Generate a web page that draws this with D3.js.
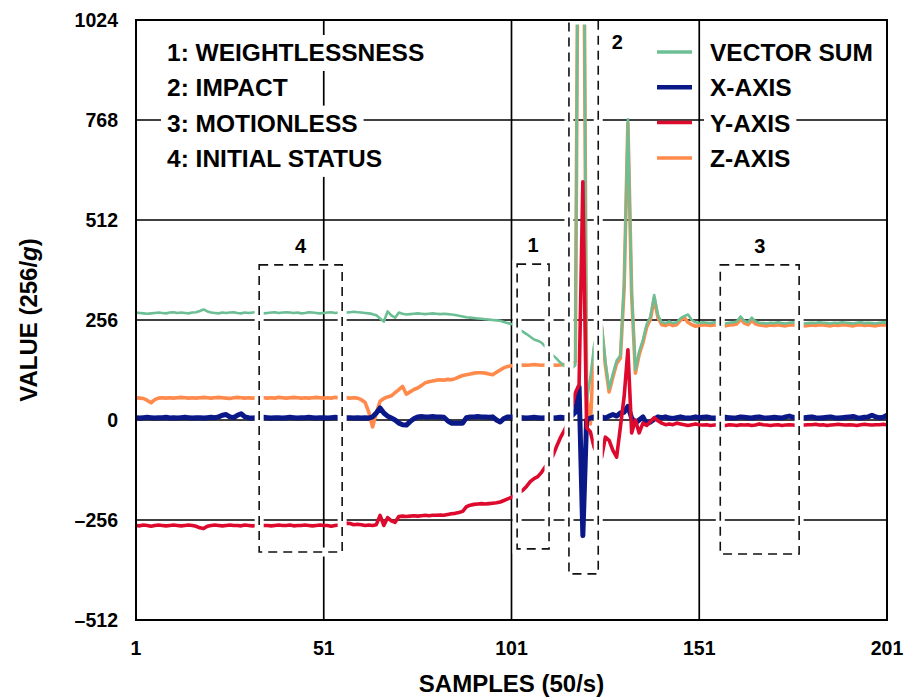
<!DOCTYPE html>
<html>
<meta charset="utf-8">
<title>Fall detection: accelerometer samples</title>
<style>
  body { margin: 0; background: #fff; }
  svg text { font-family: "Liberation Sans", Arial, sans-serif; font-weight: bold; fill: #000; }
  .grid line { stroke: #000; stroke-width: 1.7px; }
  .series { fill: none; stroke-linejoin: round; stroke-linecap: round; }
</style>
<script src="https://d3js.org/d3.v7.min.js"></script>
<body>
<script>
// chart values
const xTicks = [1, 51, 101, 151, 201]
const yTicks = [-512, -256, 0, 256, 512, 768, 1024]
const yTickLabels = ["\u2013512", "\u2013256", "0", "256", "512", "768", "1024"]
const notes = ["1: WEIGHTLESSNESS", "2: IMPACT", "3: MOTIONLESS", "4: INITIAL STATUS"]
const seriesNames = ["VECTOR SUM", "X-AXIS", "Y-AXIS", "Z-AXIS"]
const seriesColors = ["#6cbf94", "#0a1888", "#de0a2e", "#ff8a4c"]

const vectorSum = [
  275,274,273,272,273,274,275,274,273,275,
  276,274,275,274,273,275,276,279,283,278,
  275,274,273,275,274,275,276,274,273,275,
  274,275,276,275,273,274,275,276,274,275,
  276,275,274,275,273,274,276,275,274,273,
  274,275,276,274,275,274,275,276,277,276,
  275,274,273,271,268,260,252,278,268,262,
  275,272,270,271,272,273,272,271,272,273,
  272,271,272,271,270,269,267,265,263,262,
  261,260,259,258,257,256,255,254,251,248,
  246,240,232,226,220,213,206,203,198,188,
  176,166,157,147,139,134,132,140,1850,1850,
  43,110,190,235,244,150,80,118,152,165,
  350,770,330,128,175,205,245,265,320,268,
  250,248,252,248,250,260,266,270,256,250,
  248,250,249,248,250,249,248,247,249,250,
  252,265,254,250,262,252,249,248,247,249,
  248,250,248,247,249,250,248,249,247,248,
  249,248,250,249,248,247,249,248,250,249,
  248,247,249,250,248,249,248,247,249,250,
  249
]
const xAxis = [
  6,5,6,7,6,5,6,6,7,5,
  6,5,6,7,6,5,6,6,5,6,
  7,6,8,12,14,8,6,12,16,8,
  6,5,6,6,7,6,5,6,6,5,
  6,7,6,5,6,6,7,6,5,6,
  6,5,6,7,6,5,6,6,5,6,
  5,6,5,8,18,31,18,10,5,0,
  -8,-12,-13,-4,3,8,9,8,8,9,
  8,8,7,-2,-8,-8,-8,-8,6,8,
  8,9,8,8,7,8,0,-5,4,8,
  8,6,7,6,5,6,7,6,5,6,
  6,5,6,7,6,8,10,20,85,-296,
  0,5,8,10,8,5,10,14,10,18,
  20,35,5,-8,0,8,-10,-5,2,8,
  6,8,5,4,6,8,6,5,6,8,
  6,7,8,6,5,6,8,7,6,5,
  6,8,7,6,5,7,8,6,5,6,
  7,6,5,8,10,7,6,5,6,7,
  8,6,5,6,7,8,6,5,6,7,
  8,9,6,5,7,8,12,8,6,7,
  12
]
const yAxis = [
  -270,-271,-269,-270,-272,-270,-269,-270,-271,-270,
  -269,-270,-271,-270,-269,-270,-272,-276,-278,-272,
  -270,-269,-270,-271,-270,-269,-270,-270,-271,-269,
  -270,-271,-270,-269,-270,-270,-271,-270,-269,-270,
  -270,-269,-271,-270,-270,-269,-270,-271,-270,-269,
  -270,-270,-272,-270,-269,-266,-264,-265,-268,-267,
  -268,-270,-269,-270,-268,-244,-270,-250,-258,-262,
  -247,-246,-247,-246,-245,-246,-245,-244,-245,-244,
  -244,-243,-244,-242,-240,-239,-237,-234,-222,-218,
  -216,-215,-214,-215,-214,-213,-212,-210,-206,-202,
  -198,-192,-186,-180,-170,-158,-150,-145,-134,-120,
  -108,-92,-68,-46,-28,-8,30,70,90,610,
  -20,-30,-70,-90,-95,-44,-52,-78,-95,-18,
  60,180,-33,0,-33,-8,-14,-4,6,-2,
  -8,-12,-10,-12,-8,-10,-12,-14,-12,-10,
  -12,-13,-12,-14,-13,-12,-13,-14,-12,-13,
  -14,-12,-13,-12,-14,-13,-10,-12,-13,-14,
  -13,-12,-14,-13,-12,-13,-14,-12,-13,-12,
  -12,-11,-13,-12,-14,-13,-12,-11,-12,-13,
  -12,-13,-14,-12,-11,-12,-13,-12,-12,-11,
  -12
]
const zAxis = [
  57,56,55,50,44,52,56,57,56,57,
  56,57,58,57,56,57,56,57,58,57,
  56,57,58,57,56,55,57,58,57,56,
  57,56,57,58,57,56,57,56,58,57,
  56,57,58,57,56,57,56,57,58,57,
  56,57,56,58,57,56,57,56,57,56,
  52,45,20,-18,18,48,55,59,62,70,
  78,86,66,72,78,82,88,95,98,100,
  102,103,102,104,103,106,110,114,116,118,
  120,121,121,120,118,116,122,128,134,137,
  139,140,140,141,140,141,142,141,140,141,
  142,141,140,141,142,142,144,150,1750,1750,
  60,-10,180,228,238,140,72,110,145,158,
  340,760,320,120,168,198,238,258,312,262,
  244,242,246,242,244,255,262,250,244,240,
  242,244,243,242,244,243,242,241,243,244,
  246,258,248,244,255,246,243,242,241,243,
  242,244,242,241,243,244,242,243,241,242,
  243,242,244,243,242,241,243,242,244,243,
  242,241,243,244,242,243,242,241,243,244,
  243
]
// dashed event windows, in sample / value units
const regions = [
  { label: "4", s0: 33.8, s1: 55.9, v0: -338, v1: 397, at: "top" },
  { label: "1", s0: 102.5, s1: 111, v0: -330, v1: 399, at: "top" },
  { label: "2", s0: 116.3, s1: 124.1, v0: -394, v1: 1024, at: "right" },
  { label: "3", s0: 156.6, s1: 177.6, v0: -343, v1: 397, at: "top" }
]

const width = 910, height = 697
const m = { left: 136, right: 23, top: 20, bottom: 77 }

const svg = d3.select("body").append("svg")
  .attr("width", width).attr("height", height)
  .style("background", "#fff")

const x = d3.scaleLinear().domain([1, 201]).range([m.left, width - m.right])
const y = d3.scaleLinear().domain([-512, 1024]).range([height - m.bottom, m.top])

svg.append("defs").append("clipPath").attr("id", "plotclip")
  .append("rect")
  .attr("x", x(1)).attr("y", y(1024))
  .attr("width", x(201) - x(1)).attr("height", y(-512) - y(1024))

// grid
const grid = svg.append("g").attr("class", "grid")
grid.selectAll(".gx").data(xTicks.slice(1, -1)).join("line")
  .attr("x1", d => x(d)).attr("x2", d => x(d))
  .attr("y1", y(-512)).attr("y2", y(1024))
grid.selectAll(".gy").data(yTicks.slice(1, -1)).join("line")
  .attr("y1", d => y(d)).attr("y2", d => y(d))
  .attr("x1", x(1)).attr("x2", x(201))

// series
const data = [vectorSum, xAxis, yAxis, zAxis]
const widths = [2.6, 5, 3.6, 3.6]
const drawOrder = [3, 0, 1, 2]
const line = d3.line().x((d, i) => x(i + 1)).y(d => y(d))

const lines = svg.append("g").attr("clip-path", "url(#plotclip)")
drawOrder.forEach(k => {
  lines.append("path")
    .datum(data[k])
    .attr("class", "series")
    .attr("stroke", seriesColors[k])
    .attr("stroke-width", widths[k])
    .attr("d", line)
})

// text blocks with white backing
function textRow(g, str, tx, ty, size) {
  const r = g.append("rect").attr("fill", "#fff")
  const t = g.append("text").attr("x", tx).attr("y", ty)
    .style("font-size", size + "px").text(str)
  const b = t.node().getBBox()
  r.attr("x", b.x - 6).attr("y", ty - 26).attr("width", b.width + 12).attr("height", 36)
  return t
}

const rowY = i => 61 + i * 35.3

const noteG = svg.append("g")
notes.forEach((n, i) => textRow(noteG, n, 167, rowY(i), 24.5))

const legG = svg.append("g")
seriesNames.forEach((n, i) => {
  const g = legG.append("g")
  textRow(g, n, 710, rowY(i), 24.5)
  g.append("line")
    .attr("x1", 657).attr("x2", 692)
    .attr("y1", rowY(i) - 9).attr("y2", rowY(i) - 9)
    .attr("stroke", seriesColors[i])
    .attr("stroke-width", widths[i] > 4 ? 4.5 : 3.5)
})

// dashed windows with white halo
const boxes = svg.append("g")
regions.forEach(r => {
  const bx = x(r.s0), by = y(r.v1), bw = x(r.s1) - x(r.s0), bh = y(r.v0) - y(r.v1)
  boxes.append("rect").attr("x", bx).attr("y", by).attr("width", bw).attr("height", bh)
    .attr("fill", "none").attr("stroke", "#fff").attr("stroke-width", 9)
  boxes.append("rect").attr("x", bx).attr("y", by).attr("width", bw).attr("height", bh)
    .attr("fill", "none").attr("stroke", "#111").attr("stroke-width", 1.6)
    .attr("stroke-dasharray", "9,6")
  const t = boxes.append("text").style("font-size", "20px")
    .attr("text-anchor", "middle").text(r.label)
  if (r.at === "top") t.attr("x", bx + bw / 2).attr("y", by - 12)
  else t.attr("x", bx + bw + 19).attr("y", by + 29)
})

// plot border
svg.append("rect")
  .attr("x", x(1)).attr("y", y(1024))
  .attr("width", x(201) - x(1)).attr("height", y(-512) - y(1024))
  .attr("fill", "none").attr("stroke", "#000").attr("stroke-width", 2)

// tick labels
svg.append("g").selectAll("text").data(yTicks).join("text")
  .attr("x", x(1) - 18).attr("y", d => y(d) + 7)
  .attr("text-anchor", "end").style("font-size", "19.5px")
  .text((d, i) => yTickLabels[i])

svg.append("g").selectAll("text").data(xTicks).join("text")
  .attr("x", d => x(d)).attr("y", 655)
  .attr("text-anchor", "middle").style("font-size", "19.5px")
  .text(d => d)

svg.append("text")
  .attr("x", (x(1) + x(201)) / 2).attr("y", 692)
  .attr("text-anchor", "middle").style("font-size", "24px")
  .text("SAMPLES (50/s)")

const yt = svg.append("text")
  .attr("transform", `translate(37,${(y(-512) + y(1024)) / 2}) rotate(-90)`)
  .attr("text-anchor", "middle").style("font-size", "24px")
yt.append("tspan").text("VALUE (256/")
yt.append("tspan").style("font-style", "italic").text("g")
yt.append("tspan").text(")")
</script>
</body>
</html>
